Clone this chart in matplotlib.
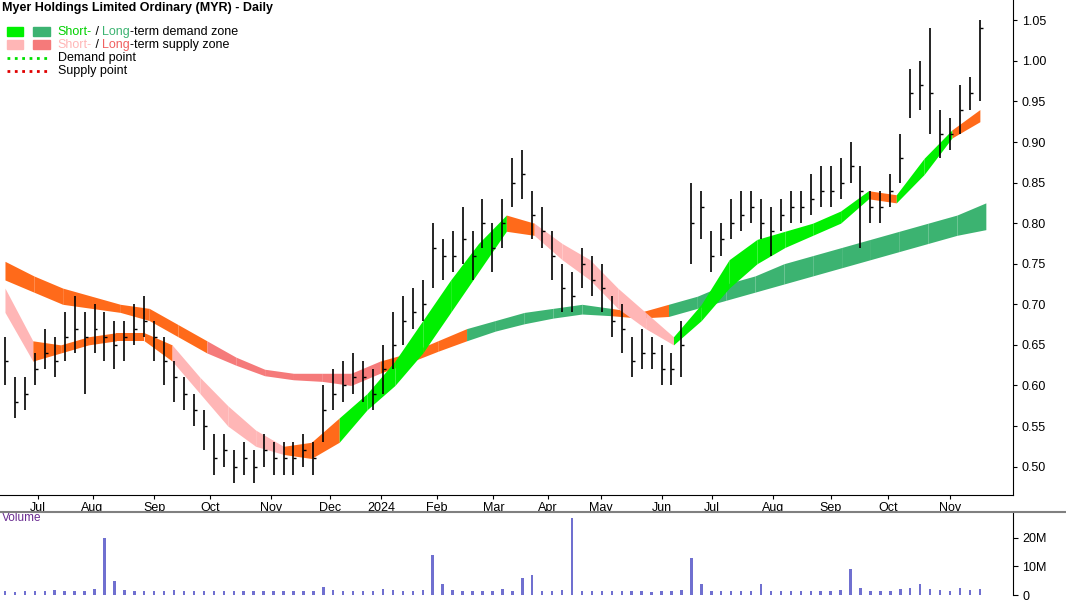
import numpy as np
import matplotlib.pyplot as plt
from matplotlib.patches import Rectangle

plt.rcParams['font.family'] = ['Liberation Sans', 'DejaVu Sans']

# price samples, roughly every 3-4 trading days
close = [0.63,0.58,0.59,0.62,0.64,0.63,0.66,0.67,0.66,0.67,0.66,0.65,0.66,0.67,0.68,0.66,0.63,0.61,0.59,0.57,
         0.55,0.51,0.52,0.50,0.51,0.50,0.52,0.51,0.51,0.51,0.52,0.51,0.57,0.59,0.60,0.61,0.61,0.59,0.62,0.65,
         0.68,0.69,0.70,0.77,0.76,0.76,0.78,0.76,0.80,0.77,0.80,0.85,0.86,0.81,0.79,0.76,0.72,0.71,0.75,0.73,
         0.72,0.68,0.67,0.63,0.64,0.64,0.62,0.62,0.65,0.80,0.82,0.76,0.78,0.80,0.81,0.82,0.80,0.79,0.81,0.82,
         0.82,0.83,0.84,0.84,0.85,0.87,0.84,0.82,0.82,0.84,0.88,0.96,0.97,0.96,0.91,0.91,0.94,0.96,1.04]
high = [0.66,0.61,0.61,0.64,0.67,0.66,0.69,0.71,0.69,0.70,0.69,0.68,0.68,0.70,0.71,0.68,0.66,0.63,0.61,0.59,
        0.57,0.54,0.54,0.52,0.53,0.52,0.54,0.53,0.53,0.53,0.54,0.53,0.60,0.62,0.63,0.64,0.63,0.62,0.65,0.69,
        0.71,0.72,0.73,0.80,0.78,0.79,0.82,0.79,0.83,0.80,0.83,0.88,0.89,0.84,0.82,0.79,0.75,0.74,0.77,0.76,
        0.75,0.71,0.70,0.66,0.67,0.66,0.65,0.64,0.68,0.85,0.84,0.79,0.80,0.83,0.84,0.84,0.83,0.82,0.83,0.84,
        0.84,0.86,0.87,0.87,0.88,0.90,0.87,0.84,0.84,0.86,0.91,0.99,1.00,1.04,0.94,0.93,0.97,0.98,1.05]
low = [0.60,0.56,0.57,0.60,0.62,0.61,0.63,0.64,0.59,0.64,0.63,0.62,0.63,0.65,0.66,0.63,0.60,0.58,0.57,0.55,
       0.52,0.49,0.50,0.48,0.49,0.48,0.50,0.49,0.49,0.49,0.50,0.49,0.53,0.57,0.58,0.59,0.58,0.57,0.59,0.62,
       0.65,0.67,0.68,0.72,0.73,0.74,0.75,0.73,0.77,0.74,0.77,0.82,0.83,0.78,0.77,0.73,0.69,0.69,0.72,0.71,
       0.69,0.66,0.64,0.61,0.62,0.62,0.60,0.60,0.61,0.75,0.78,0.74,0.76,0.78,0.79,0.80,0.78,0.76,0.79,0.80,
       0.80,0.81,0.82,0.82,0.83,0.85,0.77,0.80,0.80,0.82,0.85,0.93,0.94,0.91,0.88,0.89,0.91,0.94,0.95]
volume = [1.5,1.2,1.6,1.4,1.3,1.8,1.5,1.4,1.6,2.0,20,5,1.8,1.5,1.4,1.3,1.6,1.8,1.5,1.4,
          1.3,1.6,1.5,1.4,1.3,1.5,1.6,1.4,1.3,1.5,1.4,1.6,3,1.8,1.5,1.4,1.6,1.5,2.0,1.8,
          1.6,1.5,1.7,14,4,1.8,1.6,1.5,1.4,1.6,2.0,1.6,6,7,1.5,1.4,1.8,27,1.6,1.5,
          1.4,1.3,1.6,1.5,1.4,1.2,1.5,1.4,1.8,13,4,1.6,1.5,1.4,1.6,1.5,4,1.6,1.5,1.4,
          1.5,1.6,1.4,1.3,1.8,9,2.5,1.6,1.4,1.5,2.0,2.5,4,2.0,1.8,1.6,2.5,1.8,2.0]

# zone samples
z_long_top = [0.753,0.735,0.72,0.71,0.70,0.695,0.675,0.655,0.635,0.62,0.615,0.615,0.615,0.63,0.64,0.655,0.67,0.68,0.69,0.695,
              0.70,0.695,0.69,0.70,0.71,0.725,0.735,0.75,0.76,0.77,0.78,0.79,0.80,0.81,0.825]
z_long_bot = [0.730,0.715,0.70,0.695,0.69,0.68,0.66,0.64,0.625,0.612,0.607,0.605,0.60,0.615,0.628,0.642,0.655,0.667,0.676,0.683,
              0.688,0.686,0.683,0.685,0.695,0.705,0.715,0.725,0.735,0.745,0.755,0.765,0.775,0.785,0.792]
z_long_col = ['#FF6A1A']*7 + ['#F57A7A']*6 + ['#FF6A1A']*3 + ['#3CB371']*5 + ['#FF6A1A']*2 + ['#3CB371']*12
z_short_top = [0.72,0.655,0.65,0.66,0.665,0.665,0.65,0.61,0.575,0.545,0.525,0.53,0.56,0.59,0.63,0.68,0.73,0.775,0.81,0.80,
               0.775,0.755,0.72,0.69,0.66,0.70,0.755,0.78,0.79,0.80,0.815,0.84,0.835,0.88,0.915,0.94]
z_short_bot = [0.69,0.63,0.64,0.65,0.655,0.655,0.63,0.59,0.55,0.525,0.515,0.51,0.53,0.57,0.60,0.64,0.69,0.74,0.79,0.785,
               0.755,0.73,0.695,0.67,0.65,0.68,0.72,0.75,0.77,0.785,0.80,0.83,0.825,0.86,0.905,0.925]
z_short_col = ['#FFB6B6'] + ['#FF6A1A']*5 + ['#FFB6B6']*4 + ['#FF6A1A']*2 + ['#00F000']*6 + ['#FF6A1A'] + ['#FFB6B6']*5 + ['#00F000']*7 + ['#FF6A1A'] + ['#00F000']*2 + ['#FF6A1A'] + ['#00F000']

month_labels = ['Jul','Aug','Sep','Oct','Nov','Dec','2024','Feb','Mar','Apr','May','Jun','Jul','Aug','Sep','Oct','Nov']
month_pos = [3.3,8.8,15.0,20.6,26.7,32.7,37.8,43.4,49.1,54.6,59.9,66.0,71.1,77.2,83.0,88.8,95.0]

fig = plt.figure(figsize=(10.66, 6), dpi=100)
ax = fig.add_axes([0, 0.175, 0.95, 0.825])
axv = fig.add_axes([0, 0.008, 0.95, 0.139])

x = np.arange(len(close))
zx = np.arange(len(z_long_top)) * 2.9
for i in range(len(zx) - 1):
    ax.fill_between(zx[i:i+2], z_long_bot[i:i+2], z_long_top[i:i+2], color=z_long_col[i], lw=0, zorder=1)
zs = np.linspace(0, x[-1], len(z_short_top))
for i in range(len(zs) - 1):
    ax.fill_between(zs[i:i+2], z_short_bot[i:i+2], z_short_top[i:i+2], color=z_short_col[i], lw=0, zorder=2)

ax.vlines(x, low, high, color='black', lw=1.2, zorder=3)
ax.hlines(close, x, x + 0.3, color='black', lw=1.0, zorder=3)

ax.set_xlim(-0.5, 101.3)
ax.set_ylim(0.465, 1.075)
ax.yaxis.tick_right()
ax.set_yticks([0.50,0.55,0.60,0.65,0.70,0.75,0.80,0.85,0.90,0.95,1.00,1.05])
ax.set_yticklabels(['%.2f' % v for v in ax.get_yticks()], fontsize=9)
ax.set_xticks(month_pos)
ax.set_xticklabels(month_labels, fontsize=9)
ax.tick_params(axis='x', length=3, pad=2)
ax.tick_params(axis='y', length=3)
for s in ['top', 'left']:
    ax.spines[s].set_visible(False)

ax.text(0.002, 0.995, 'Myer Holdings Limited Ordinary (MYR) - Daily', transform=ax.transAxes,
        fontsize=9, fontweight='bold', va='top')
ly = [0.935, 0.909, 0.883, 0.857]
ax.add_patch(Rectangle((0.007, 0.927), 0.016, 0.018, transform=ax.transAxes, color='#00F000'))
ax.add_patch(Rectangle((0.033, 0.927), 0.016, 0.018, transform=ax.transAxes, color='#3CB371'))
ax.add_patch(Rectangle((0.007, 0.901), 0.016, 0.018, transform=ax.transAxes, color='#FFB6B6'))
ax.add_patch(Rectangle((0.033, 0.901), 0.016, 0.018, transform=ax.transAxes, color='#F57A7A'))
ax.plot([0.007, 0.049], [0.883, 0.883], transform=ax.transAxes, color='#00E000', ls=':', lw=2)
ax.plot([0.007, 0.049], [0.857, 0.857], transform=ax.transAxes, color='#E00000', ls=':', lw=2)
fs = 9
def seg(y, parts):
    xx = 0.057
    for txt, col in parts:
        t = ax.text(xx, y, txt, transform=ax.transAxes, fontsize=fs, color=col, va='center')
        fig.canvas.draw()
        bb = t.get_window_extent().transformed(ax.transAxes.inverted())
        xx = bb.x1
seg(ly[0], [('Short-', '#00D000'), (' / ', 'black'), ('Long', '#3CB371'), ('-term demand zone', 'black')])
seg(ly[1], [('Short-', '#FFB6B6'), (' / ', 'black'), ('Long', '#F06060'), ('-term supply zone', 'black')])
seg(ly[2], [('Demand point', 'black')])
seg(ly[3], [('Supply point', 'black')])

axv.bar(x, volume, width=0.25, color='#7070D0')
axv.set_xlim(-0.5, 101.3)
axv.set_ylim(0, 29)
axv.yaxis.tick_right()
axv.set_yticks([0, 10, 20])
axv.set_yticklabels(['0', '10M', '20M'], fontsize=9)
axv.set_xticks([])
for s in ['top', 'left', 'bottom']:
    axv.spines[s].set_visible(False)
axv.text(0.002, 1.0, 'Volume', transform=axv.transAxes, fontsize=8.5, color='#6A2C91', va='top')
fig.add_artist(plt.Line2D([0, 1], [0.147, 0.147], color='gray', lw=1.5))

fig.savefig('out.png', dpi=100)
